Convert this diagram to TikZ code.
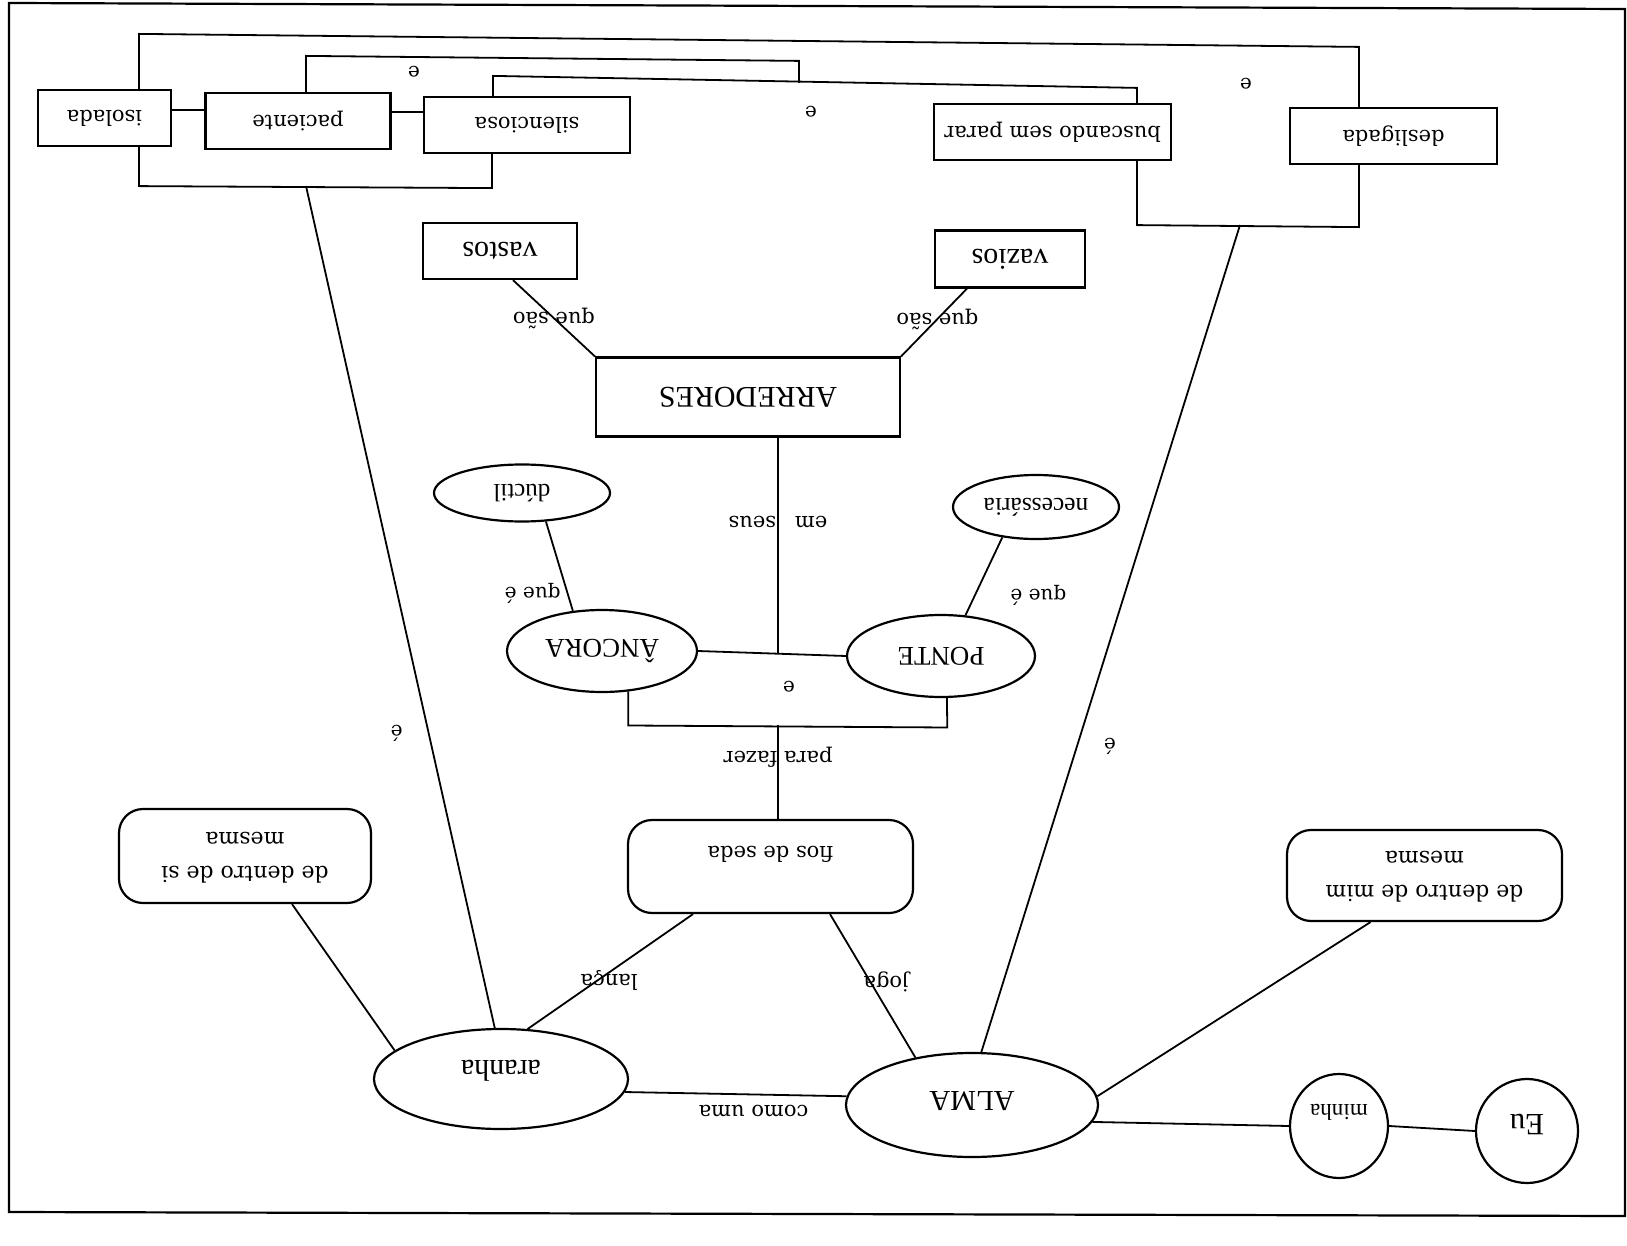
\documentclass[tikz,border=0pt]{standalone}
\usepackage{fontspec}
\setmainfont{Liberation Serif}
\newfontfamily\dvs{DejaVu Serif}
\usetikzlibrary{shapes.geometric}
\newcommand{\upsd}[1]{\rotatebox{180}{#1}}
\newcommand{\tms}[1]{\fontsize{#1}{#1}\selectfont}
\newcommand{\slab}[1]{\dvs\fontsize{#1}{#1}\selectfont}
\newcommand{\rsd}[2]{\raisebox{-#1}[\height][\depth]{#2}}
\begin{document}
\begin{tikzpicture}[x=1pt,y=-1pt,
 box/.style={draw, line width=2.2pt, inner sep=0pt, minimum height=56pt},
 rbox/.style={box, rounded corners=24pt},
 ell/.style={draw, ellipse, line width=2.2pt, inner sep=0pt},
 conn/.style={line width=1.8pt},
 lbl/.style={inner sep=0pt},
 sl/.style={font={\slab{#1}}},
 tm/.style={font={\tms{#1}}},
 two/.style={font={\dvs\fontsize{22}{34}\selectfont}},
]
\useasboundingbox (0,0) rectangle (1627,1246);
\draw[line width=2.2pt] (9,3) -- (1625,9) -- (1625,1216) -- (9,1212) -- cycle;

% top row
\node[box, sl=21, minimum width=133pt] (iso) at (104.5,118) {\upsd{isolada}};
\node[box, sl=21, minimum width=185pt] (pac) at (298,121) {\upsd{paciente}};
\node[box, sl=21, minimum width=206pt] (sil) at (527,125) {\upsd{silenciosa}};
\node[box, sl=21, minimum width=237pt] (bus) at (1052.5,132) {\upsd{buscando sem parar}};
\node[box, sl=21, minimum width=207pt] (des) at (1393.5,136) {\upsd{desligada}};

\node[lbl, sl=20] (e1) at (414,72) {\upsd{e}};
\node[lbl, sl=20] (e2) at (811,112) {\upsd{e}};
\node[lbl, sl=20] (e3) at (1246,84) {\upsd{e}};

\coordinate (mj) at (799,83);
\coordinate (blj) at (306,186);
\coordinate (brj) at (1240,225);

\draw[conn] ([yshift=8pt]iso.east) -- ([yshift=11pt]pac.west);
\draw[conn] ([yshift=9pt]pac.east) -- ([yshift=13pt]sil.west);
\draw[conn] ([xshift=34.5pt]iso.north) -- ++(0,-55) -- ++(1220,13) -- ([xshift=-34.5pt]des.north);
\draw[conn] ([xshift=34.5pt]iso.south) -- ++(0,39) -- ++(353,2) -- ([xshift=-35pt]sil.south);
\draw[conn] ([xshift=-34pt]sil.north) -- ++(0,-20) -- ++(644,12) -- ([xshift=84.5pt]bus.north);
\draw[conn] ([xshift=8pt]pac.north) -- ++(0,-36) -- ++(493,5) -- (mj);
\draw[conn] ([xshift=84.5pt]bus.south) -- ++(0,64) -- ++(222,2) -- ([xshift=-34.5pt]des.south);

% middle
\node[box, tm=30, minimum width=154pt] (vastos) at (500,251) {\upsd{vastos}};
\node[box, tm=30, minimum width=150pt, minimum height=57pt] (vazios) at (1010,259) {\upsd{vazios}};
\node[box, tm=30, minimum width=304pt, minimum height=79pt] (arr) at (748,397) {\upsd{ARREDORES}};
\draw[conn] (arr.north west) -- node[lbl, sl=21, pos=.5]{\upsd{que são}} ([xshift=13pt]vastos.south);
\draw[conn] (arr.north east) -- node[lbl, sl=21, pos=.55]{\upsd{que são}} ([xshift=-43pt]vazios.south);

\node[ell, tm=25, minimum width=176pt, minimum height=57pt] (duc) at (522,493) {\upsd{dúctil}};
\node[ell, tm=25.5, minimum width=166pt, minimum height=64pt] (nec) at (1036,507) {\upsd{necessária}};
\node[ell, tm=27, minimum width=190pt, minimum height=82pt] (anc) at (602,651) {\upsd{ÂNCORA}};
\node[ell, tm=27, minimum width=188pt, minimum height=82pt] (pon) at (941,656) {\upsd{PONTE}};

\coordinate (apj) at (778,653);
\coordinate (pfj) at (778,725);
\draw[conn] (anc.east) -- (pon.west);
\draw[conn] ([xshift=30pt]arr.south) -- node[lbl, sl=21, pos=.39]{\upsd{em\hspace{0.9em}seus}} (apj);
\draw[conn] (anc.126) -- node[lbl, sl=20, pos=.2, anchor=east, xshift=-6pt]{\upsd{que é}} (duc.-50);
\draw[conn] (pon.59) -- node[lbl, sl=20, pos=.25, anchor=west, xshift=35pt]{\upsd{que é}} (nec.-138);
\draw[conn] (anc.-57) -- ++(0,34) -- ++(319,2) -- (pon.-82);
\node[lbl, sl=20] (e4) at (789,687) {\upsd{e}};

\node[rbox, sl=21, minimum width=285pt, minimum height=93pt] (fios) at (770.5,866.5) {\upsd{\rsd{12pt}{fios de seda}}};
\draw[conn] (pfj) -- node[lbl, sl=21, pos=.34]{\upsd{para fazer}} ([xshift=7.5pt]fios.north);

\node[rbox, two, minimum width=252pt, minimum height=94pt] (dsi) at (245,856) {\upsd{\begin{tabular}{@{}c@{}}de dentro de si\\mesma\end{tabular}}};
\node[rbox, two, minimum width=275pt, minimum height=91pt] (dmim) at (1424.5,875.5) {\upsd{\begin{tabular}{@{}c@{}}de dentro de mim\\mesma\end{tabular}}};

% bottom
\node[ell, tm=30, minimum width=254pt, minimum height=100pt] (ara) at (501,1079) {\upsd{\rsd{8pt}{aranha}}};
\node[ell, tm=29, minimum width=252pt, minimum height=104pt] (alma) at (972,1105) {\upsd{\rsd{4pt}{ALMA}}};
\node[ell, tm=23, minimum width=98pt, minimum height=104pt] (minha) at (1339,1126) {\upsd{\rsd{14pt}{minha}}};
\node[ell, tm=31, minimum width=102pt, minimum height=104pt] (eu) at (1527,1131) {\upsd{\rsd{7pt}{Eu}}};

\draw[conn] (ara.-6) -- node[lbl, sl=21, pos=.58, yshift=-16pt]{\upsd{como uma}} (alma.176);
\draw[conn] (alma.-8) -- (minha.west);
\draw[conn] (minha.east) -- (eu.west);
\draw[conn] (alma.4) -- ([xshift=-54pt]dmim.south);
\draw[conn] ([xshift=47pt]dsi.south) -- (ara.165);
\draw[conn] (blj) -- node[lbl, sl=20, pos=.65, xshift=-32pt]{\upsd{é}} (ara.97);
\draw[conn] (brj) -- node[lbl, sl=20, pos=.63, xshift=33pt]{\upsd{é}} (alma.80);
\draw[conn] ([xshift=-77.5pt]fios.south) -- node[lbl, sl=21, pos=.58, xshift=12pt]{\upsd{lança}} (ara.62);
\draw[conn] ([xshift=59.5pt]fios.south) -- node[lbl, sl=21, pos=.47, xshift=16pt]{\upsd{joga}} (alma.140);
\end{tikzpicture}
\end{document}
